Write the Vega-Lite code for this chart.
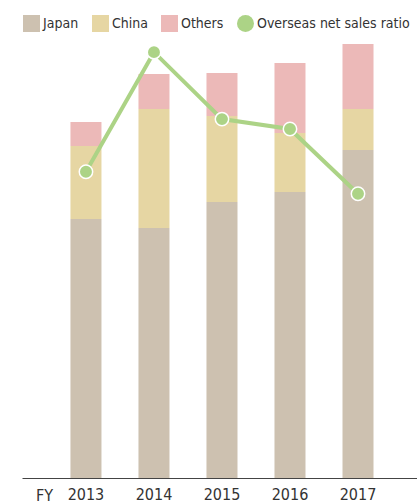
{
  "$schema": "https://vega.github.io/schema/vega-lite/v6.json",
  "width": 395,
  "height": 450,
  "autosize": {"type": "none"},
  "padding": {"left": 22, "top": 28, "right": 0, "bottom": 25},
  "background": "white",
  "config": {
    "view": {"stroke": null},
    "font": "DejaVu Sans Condensed, Roboto, sans-serif",
    "axis": {"labelFont": "DejaVu Sans Condensed, Roboto, sans-serif", "titleFont": "DejaVu Sans Condensed, Roboto, sans-serif"},
    "legend": {"labelFont": "DejaVu Sans Condensed, Roboto, sans-serif"}
  },
  "datasets": {
    "sales": [
      {"year": "2013", "region": "Japan", "value": 259},
      {"year": "2013", "region": "China", "value": 73},
      {"year": "2013", "region": "Others", "value": 24},
      {"year": "2014", "region": "Japan", "value": 250},
      {"year": "2014", "region": "China", "value": 119},
      {"year": "2014", "region": "Others", "value": 35},
      {"year": "2015", "region": "Japan", "value": 276},
      {"year": "2015", "region": "China", "value": 86},
      {"year": "2015", "region": "Others", "value": 43},
      {"year": "2016", "region": "Japan", "value": 286},
      {"year": "2016", "region": "China", "value": 59},
      {"year": "2016", "region": "Others", "value": 70},
      {"year": "2017", "region": "Japan", "value": 328},
      {"year": "2017", "region": "China", "value": 41},
      {"year": "2017", "region": "Others", "value": 65}
    ],
    "ratio": [
      {"year": "2013", "ratio": 27.9},
      {"year": "2014", "ratio": 38.8},
      {"year": "2015", "ratio": 32.7},
      {"year": "2016", "ratio": 31.8},
      {"year": "2017", "ratio": 25.9}
    ]
  },
  "encoding": {
    "x": {
      "field": "year",
      "type": "nominal",
      "scale": {"paddingInner": 0.544, "paddingOuter": 0.676, "align": 0.527},
      "axis": {
        "title": "FY",
        "titleX": 22,
        "titleY": 22,
        "titleAlign": "center",
        "titleBaseline": "alphabetic",
        "titleAnchor": null,
        "titleFontSize": 16,
        "titleFontWeight": "normal",
        "titleColor": "#333333",
        "labelAngle": 0,
        "labelFontSize": 16,
        "labelColor": "#333333",
        "labelPadding": 8,
        "ticks": false,
        "domainColor": "#444444",
        "domainWidth": 1
      }
    }
  },
  "layer": [
    {
      "data": {"name": "sales"},
      "transform": [
        {"calculate": "indexof(['Japan','China','Others'], datum.region)", "as": "stackOrder"}
      ],
      "mark": {"type": "bar"},
      "encoding": {
        "y": {
          "field": "value",
          "type": "quantitative",
          "stack": "zero",
          "scale": {"domain": [0, 450], "nice": false},
          "axis": null
        },
        "order": {"field": "stackOrder", "type": "quantitative", "sort": "ascending"},
        "color": {
          "field": "region",
          "type": "nominal",
          "sort": ["Japan", "China", "Others", "Overseas net sales ratio"],
          "scale": {
            "domain": ["Japan", "China", "Others", "Overseas net sales ratio"],
            "range": ["#cdc1b0", "#e6d6a3", "#ecb9b8", "#acd386"]
          },
          "legend": {
            "title": null,
            "orient": "none",
            "legendX": 1,
            "legendY": -13,
            "direction": "horizontal",
            "columns": 4,
            "columnPadding": 13,
            "symbolSize": 289,
            "symbolType": "square",
            "symbolStrokeWidth": 0,
            "labelFontSize": 14,
            "labelColor": "#333333",
            "labelOffset": 3,
            "labelLimit": 300,
            "encode": {
              "symbols": {
                "update": {
                  "shape": {"signal": "datum.label === 'Overseas net sales ratio' ? 'circle' : 'square'"}
                }
              }
            }
          }
        }
      }
    },
    {
      "data": {"name": "ratio"},
      "mark": {"type": "line", "color": "#acd386", "strokeWidth": 4},
      "encoding": {
        "y": {
          "field": "ratio",
          "type": "quantitative",
          "scale": {"domain": [0, 41], "nice": false},
          "axis": null
        }
      }
    },
    {
      "data": {"name": "ratio"},
      "mark": {"type": "point", "filled": true, "fill": "#acd386", "stroke": "white", "strokeWidth": 1.5, "size": 180, "opacity": 1},
      "encoding": {
        "y": {
          "field": "ratio",
          "type": "quantitative",
          "scale": {"domain": [0, 41], "nice": false},
          "axis": null
        }
      }
    }
  ],
  "resolve": {"scale": {"y": "independent"}}
}
